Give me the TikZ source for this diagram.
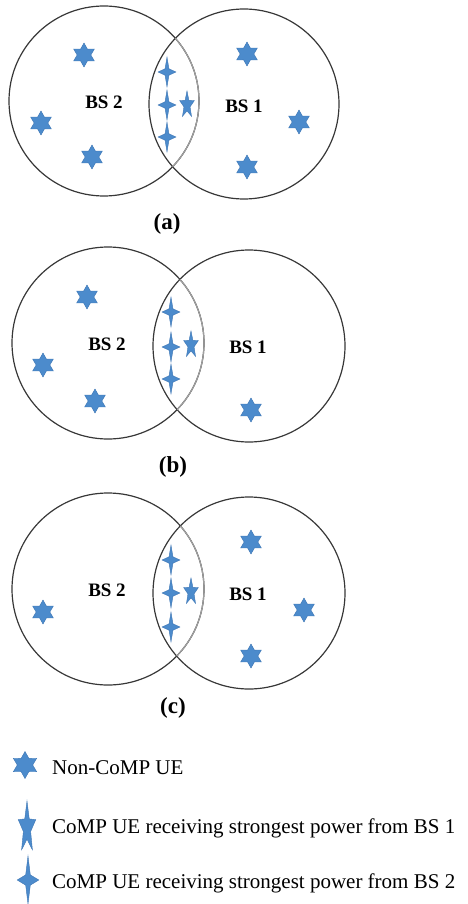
\documentclass[tikz,border=0pt]{standalone}
\usepackage{fontspec}
\setmainfont{Liberation Serif}
\usetikzlibrary{shapes.geometric}
\definecolor{uefill}{RGB}{76,139,204}
\definecolor{uedraw}{RGB}{62,118,180}
\definecolor{ringcol}{RGB}{55,55,55}
\definecolor{lenscol}{RGB}{160,160,160}

\begin{document}
\begin{tikzpicture}[x=1pt,y=-1pt,
  ring/.style={ringcol,line width=1.2pt},
  lensarc/.style={lenscol,line width=1.2pt},
  noncomp/.style={star,star points=6,star point ratio=1.75,fill=uefill,draw=uedraw,line width=0.4pt,inner sep=0pt,minimum size=24pt},
  compa/.style={star,star points=5,star point ratio=2.4,fill=uefill,draw=uedraw,line width=0.4pt,inner sep=0pt,minimum size=28pt,xscale=0.55,transform shape},
  compb/.style={star,star points=4,star point ratio=3.3,fill=uefill,draw=uedraw,line width=0.4pt,inner sep=0pt,minimum size=30pt,xscale=0.6,transform shape},
  bs/.style={font=\fontsize{19}{19}\selectfont\bfseries},
  caplabel/.style={font=\fontsize{23}{23}\selectfont\bfseries},
  legtext/.style={anchor=west,inner sep=0pt,font=\fontsize{21}{21}\selectfont}]
\useasboundingbox (0,0) rectangle (468,904);

% (a)
\draw[ring] (104,101) circle (95);
\draw[ring] (244,104) circle (95);
\begin{scope}
\clip (244,104) circle (95);
\draw[lensarc] (104,101) circle (95);
\end{scope}
\node[bs] (bs2a) at (104,102) {BS 2};
\node[bs] (bs1a) at (244,106) {BS 1};
\node[noncomp] (ua1) at (84,55) {};
\node[noncomp] (ua2) at (41,123) {};
\node[noncomp] (ua3) at (92,157) {};
\node[noncomp] (ua4) at (247,54) {};
\node[noncomp] (ua5) at (299,122) {};
\node[noncomp] (ua6) at (247,167) {};
\node[compb] (ca1) at (167,72) {};
\node[compb] (ca2) at (167,105) {};
\node[compb] (ca3) at (167,137) {};
\node[compa] (ca4) at (187,105) {};
\node[caplabel] (capa) at (167,224) {(a)};

% (b)
\draw[ring] (108,343) circle (96);
\draw[ring] (249,346) circle (96);
\begin{scope}
\clip (249,346) circle (96);
\draw[lensarc] (108,343) circle (96);
\end{scope}
\node[bs] (bs2b) at (107,344) {BS 2};
\node[bs] (bs1b) at (248,347) {BS 1};
\node[noncomp] (ub1) at (87,297) {};
\node[noncomp] (ub2) at (43,365) {};
\node[noncomp] (ub3) at (95,401) {};
\node[noncomp] (ub4) at (251,410) {};
\node[compb] (cb1) at (171,312) {};
\node[compb] (cb2) at (171,347) {};
\node[compb] (cb3) at (171,379) {};
\node[compa] (cb4) at (191,345) {};
\node[caplabel] (capb) at (173,467) {(b)};

% (c)
\draw[ring] (108,589) circle (96);
\draw[ring] (249,593) circle (96);
\begin{scope}
\clip (249,593) circle (96);
\draw[lensarc] (108,589) circle (96);
\end{scope}
\node[bs] (bs2c) at (107,590) {BS 2};
\node[bs] (bs1c) at (248,594) {BS 1};
\node[noncomp] (uc1) at (43,612) {};
\node[noncomp] (uc2) at (251,542) {};
\node[noncomp] (uc3) at (304,610) {};
\node[noncomp] (uc4) at (251,656) {};
\node[compb] (cc1) at (171,560) {};
\node[compb] (cc2) at (171,593) {};
\node[compb] (cc3) at (171,627) {};
\node[compa] (cc4) at (191,592) {};
\node[caplabel] (capc) at (173,708) {(c)};

% legend
\node[noncomp,minimum size=27pt] (lg1) at (25,765) {};
\node[compa,minimum size=54pt,xscale=0.62] (lg2) at (27,828) {};
\node[compb,minimum size=48pt,xscale=0.75] (lg3) at (28,880) {};
\node[legtext] (tx1) at (52,768) {Non-CoMP UE};
\node[legtext] (tx2) at (52,828) {CoMP UE receiving strongest power from BS 1};
\node[legtext] (tx3) at (52,883) {CoMP UE receiving strongest power from BS 2};
\end{tikzpicture}
\end{document}
